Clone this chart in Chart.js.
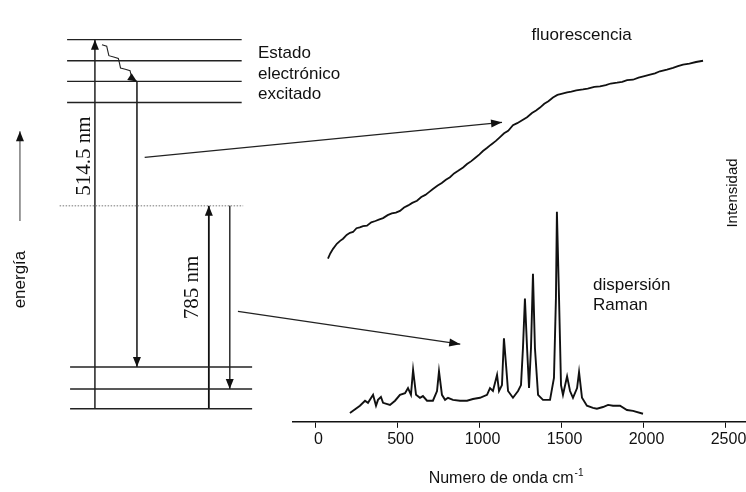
<!DOCTYPE html>
<html><head><meta charset="utf-8">
<script src="https://cdn.jsdelivr.net/npm/chart.js@4.4.1/dist/chart.umd.min.js"></script>
<style>html,body{margin:0;padding:0;background:#fff;}canvas{display:block;}</style>
</head><body>
<canvas id="c" width="746" height="492"></canvas>
<script>
// ---- Spectrum data (wavenumber cm-1, intensity a.u.) ----
const fluoX = [76,90,107,130,150,168,190,210,229,250,270,290,314,340,365,390,412,440,465,490,515,540,565,590,619,645,670,690,716,745,770,795,820,845,870,900,924,950,975,1000,1021,1045,1070,1100,1125,1150,1175,1204,1230,1260,1290,1320,1345,1369,1395,1420,1448,1475,1505,1534,1560,1590,1631,1660,1700,1735,1770,1800,1839,1870,1900,1936,1970,2000,2040,2070,2100,2143,2180,2210,2241,2280,2320,2363];
const fluoY = [38.7,39.9,41.0,42.2,42.9,43.4,44.3,44.8,45.0,45.9,46.1,46.4,46.5,47.3,47.6,48.0,48.3,49.0,49.4,49.6,50.0,50.8,51.3,51.9,52.4,53.3,53.8,54.4,55.2,56.0,56.6,57.4,58.0,58.9,59.5,60.3,61.1,61.8,62.6,63.4,64.2,64.9,65.7,66.6,67.5,68.4,69.0,70.3,70.8,71.5,72.2,73.2,73.8,74.5,75.4,76.0,76.9,77.5,77.8,78.1,78.3,78.6,78.8,79.0,79.4,79.5,79.8,80.2,80.4,80.6,81.0,81.1,81.6,81.9,82.3,82.6,83.1,83.5,83.9,84.3,84.7,84.9,85.3,85.6];
const ramanX = [210,271,302,320,351,369,381,399,412,454,485,515,546,564,582,595,613,637,655,680,716,741,753,771,790,808,838,881,924,960,1003,1046,1064,1082,1107,1119,1137,1149,1162,1174,1204,1235,1253,1265,1277,1290,1302,1314,1326,1338,1357,1387,1430,1454,1466,1472,1485,1497,1509,1534,1552,1570,1595,1607,1625,1655,1692,1716,1753,1784,1814,1857,1899,1936,1997];
const ramanY = [2.1,3.8,5.0,4.5,6.4,3.8,5.2,5.9,4.5,4.0,5.0,6.4,6.8,8.0,6.4,12.3,6.4,5.7,6.1,5.0,5.0,7.3,12.0,6.4,5.2,5.7,5.2,5.0,5.0,5.4,5.7,6.4,8.0,7.3,11.1,7.3,8.7,19.8,13.4,7.3,5.7,7.3,8.7,17.5,29.2,17.5,8.0,17.5,35.1,17.5,6.4,5.2,5.2,10.4,29.2,49.8,29.2,8.7,6.4,10.8,7.3,5.7,8.0,11.8,5.7,3.8,3.3,3.1,3.5,4.0,3.8,3.8,2.8,2.6,1.9];
const xTicks = [0,500,1000,1500,2000,2500];

// ---- Energy diagram (schematic units) ----
const excitedLevels = [90.6,85.6,80.7,75.7];
const excitedSpan = [9.0,32.4];
const virtualLevel = 51.2;
const virtualSpan = [8.0,32.6];
const groundLevels = [13.0,7.8,3.1];
const groundSpan = [9.4,33.8];
const transitions = [ // x, from, to, width, color
  {x:12.73, from:3.1,  to:90.6, w:1.4, c:'#111'},
  {x:18.36, from:80.7, to:13.0, w:1.0, c:'#333'},
  {x:28.0,  from:3.1,  to:51.2, w:1.8, c:'#111'},
  {x:30.8,  from:51.2, to:7.8,  w:1.0, c:'#333'}
];
// vibrational relaxation (wavy), listed from arrival point back to origin
const relaxX = [18.36,17.88,17.58,17.44,16.80,16.16,16.02,15.87,15.24,14.60,14.45,14.31,13.67];
const relaxY = [80.66,81.22,82.12,83.25,83.57,83.89,85.02,86.16,86.48,86.80,87.93,89.07,89.39];
const pointerA = {x:[19.4,67.3], y:[62.7,71.0]};
const pointerB = {x:[31.9,61.7], y:[26.2,18.4]};
const energyArrow = {x:2.68, from:47.6, to:68.9};

const S = "'Liberation Sans', Arial, sans-serif";
const SERIF = "'Liberation Serif', 'Times New Roman', serif";
const texts = [
  {t:'Estado', x:34.58, y:86.2, f:'17px '+S, a:'left'},
  {t:'electrónico', x:34.58, y:81.37, f:'17px '+S, a:'left'},
  {t:'excitado', x:34.58, y:76.53, f:'17px '+S, a:'left'},
  {t:'fluorescencia', x:77.97, y:90.57, f:'17px '+S, a:'center'},
  {t:'dispersión', x:79.49, y:31.2, f:'17px '+S, a:'left'},
  {t:'Raman', x:79.49, y:26.49, f:'17px '+S, a:'left'},
  {t:'Intensidad', x:98.26, y:54.25, f:'15px '+S, a:'center', r:true},
  {t:'energía', x:2.68, y:33.73, f:'17px '+S, a:'center', r:true},
  {t:'514.5 nm', x:11.39, y:62.97, f:'21px '+SERIF, a:'center', r:true},
  {t:'785 nm', x:25.87, y:31.84, f:'21px '+SERIF, a:'center', r:true}
];
const axisTitle = {main:'Numero de onda cm', sup:'-1', xValue:1162, yValue:-13.44};

const pts = (xs, ys) => xs.map((v,i)=>({x:v, y:ys[i]}));
const base = {showLine:true, pointRadius:0, fill:false, clip:false, tension:0};
const datasets = [];
datasets.push({...base, data:pts(fluoX,fluoY), borderColor:'#111', borderWidth:1.8, xAxisID:'x', yAxisID:'y'});
datasets.push({...base, data:pts(ramanX,ramanY), borderColor:'#111', borderWidth:1.9, xAxisID:'x', yAxisID:'y'});
excitedLevels.forEach(l=>datasets.push({...base, data:[{x:excitedSpan[0],y:l},{x:excitedSpan[1],y:l}], borderColor:'#222', borderWidth:1.3, xAxisID:'xd', yAxisID:'ye'}));
datasets.push({...base, data:[{x:virtualSpan[0],y:virtualLevel},{x:virtualSpan[1],y:virtualLevel}], borderColor:'#777', borderWidth:1, borderDash:[1.5,1.5], xAxisID:'xd', yAxisID:'ye'});
groundLevels.forEach(l=>datasets.push({...base, data:[{x:groundSpan[0],y:l},{x:groundSpan[1],y:l}], borderColor:'#222', borderWidth:1.5, xAxisID:'xd', yAxisID:'ye'}));
transitions.forEach(t=>datasets.push({...base, data:[{x:t.x,y:t.from},{x:t.x,y:t.to}], borderColor:t.c, borderWidth:t.w, arrow:{len:10,half:4}, xAxisID:'xd', yAxisID:'ye'}));
datasets.push({...base, data:pts(relaxX,relaxY), borderColor:'#222', borderWidth:1.1, arrow:{len:9,half:4,atStart:true}, xAxisID:'xd', yAxisID:'ye'});
datasets.push({...base, data:pts(pointerA.x,pointerA.y), borderColor:'#222', borderWidth:1.2, arrow:{len:11,half:4}, xAxisID:'xd', yAxisID:'ye'});
datasets.push({...base, data:pts(pointerB.x,pointerB.y), borderColor:'#222', borderWidth:1.2, arrow:{len:11,half:4}, xAxisID:'xd', yAxisID:'ye'});
datasets.push({...base, data:[{x:energyArrow.x,y:energyArrow.from},{x:energyArrow.x,y:energyArrow.to}], borderColor:'#666', borderWidth:1.3, arrow:{len:10,half:4}, xAxisID:'xd', yAxisID:'ye'});

const arrowPlugin = {
  id:'arrows',
  afterDatasetsDraw(chart){
    const ctx = chart.ctx;
    chart.data.datasets.forEach((ds,i)=>{
      if(!ds.arrow) return;
      const m = chart.getDatasetMeta(i).data;
      const p1 = ds.arrow.atStart ? m[1] : m[m.length-2];
      const p2 = ds.arrow.atStart ? m[0] : m[m.length-1];
      const ang = Math.atan2(p2.y-p1.y, p2.x-p1.x);
      const L = ds.arrow.len, H = ds.arrow.half;
      ctx.save();
      ctx.fillStyle = '#111';
      ctx.translate(p2.x,p2.y); ctx.rotate(ang);
      ctx.beginPath(); ctx.moveTo(0,0); ctx.lineTo(-L,-H); ctx.lineTo(-L,H); ctx.closePath(); ctx.fill();
      ctx.restore();
    });
  }
};
const textPlugin = {
  id:'texts',
  afterDraw(chart){
    const ctx = chart.ctx, xd = chart.scales.xd, ye = chart.scales.ye;
    texts.forEach(o=>{
      const px = xd.getPixelForValue(o.x), py = ye.getPixelForValue(o.y);
      ctx.save(); ctx.fillStyle = '#111'; ctx.font = o.f;
      if(o.r){ ctx.translate(px,py); ctx.rotate(-Math.PI/2); ctx.textAlign='center'; ctx.textBaseline='middle'; ctx.fillText(o.t,0,0); }
      else { ctx.textAlign=o.a; ctx.textBaseline='alphabetic'; ctx.fillText(o.t,px,py); }
      ctx.restore();
    });
    const px = chart.scales.x.getPixelForValue(axisTitle.xValue), py = chart.scales.y.getPixelForValue(axisTitle.yValue);
    ctx.save(); ctx.fillStyle='#111'; ctx.textBaseline='middle';
    ctx.font = '16px '+S; const w1 = ctx.measureText(axisTitle.main).width;
    ctx.font = '10px '+S; const w2 = ctx.measureText(axisTitle.sup).width;
    const x0 = px - (w1+w2+1)/2;
    ctx.font = '16px '+S; ctx.textAlign='left'; ctx.fillText(axisTitle.main, x0, py);
    ctx.font = '10px '+S; ctx.fillText(axisTitle.sup, x0+w1+1, py-5);
    ctx.restore();
  }
};

Chart.defaults.font.family = S;
Chart.defaults.color = '#111';
new Chart(document.getElementById('c'), {
  type:'scatter',
  data:{datasets},
  options:{
    responsive:false, animation:false, events:[],
    layout:{padding:{left:293, right:0, top:0, bottom:41}},
    plugins:{legend:{display:false}, tooltip:{enabled:false}},
    scales:{
      x:{type:'linear', min:-137.2, max:2625, position:'bottom',
         afterBuildTicks:s=>{ s.ticks = xTicks.map(v=>({value:v})); },
         ticks:{font:{size:16}, color:'#111', padding:2, maxRotation:0, autoSkip:false, labelOffset:3, callback:v=>String(v)},
         grid:{display:true, drawOnChartArea:false, drawTicks:true, tickLength:6, color:'#111', tickWidth:1},
         border:{display:true, color:'#111', width:1.5}},
      y:{type:'linear', min:0, max:100, display:false},
      xd:{type:'linear', axis:'x', min:39.28, max:100, display:false},
      ye:{type:'linear', axis:'y', min:0, max:100, display:false}
    }
  },
  plugins:[arrowPlugin, textPlugin]
});
</script>
</body></html>
